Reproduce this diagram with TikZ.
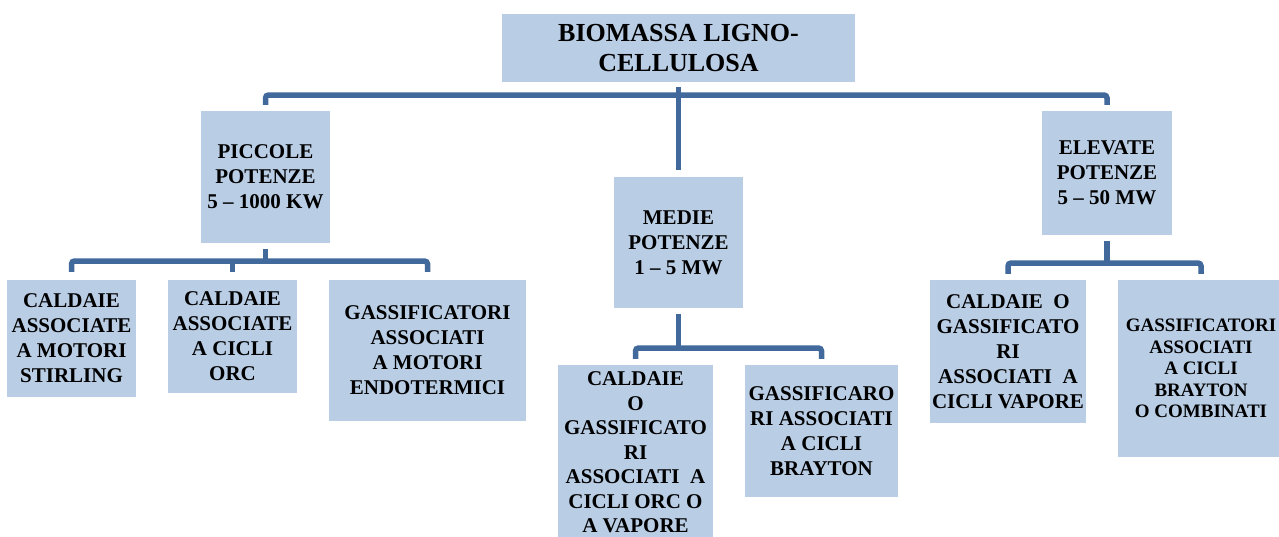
\documentclass[tikz,border=0pt]{standalone}
\usepackage{fontspec}
\setmainfont{Liberation Serif}
\definecolor{boxblue}{HTML}{B9CDE5}
\definecolor{linkblue}{HTML}{41699C}
\begin{document}
\begin{tikzpicture}[x=1pt,y=-1pt,
  box/.style={fill=boxblue, draw=none, inner sep=0pt, align=center, font=\bfseries\fontsize{21}{25}\selectfont},
  conn/.style={draw=linkblue, line width=5.5pt, rounded corners=3pt}]
\useasboundingbox (0,0) rectangle (1279,536);
\clip (0,0) rectangle (1279,536);
% nodes
\node[box, minimum width=353pt, minimum height=68pt, font=\bfseries\fontsize{26}{30.5}\selectfont] (top) at (678.5,48) {BIOMASSA LIGNO-\\CELLULOSA};
\node[box, minimum width=129pt, minimum height=132pt] (pic) at (265.5,177) {PICCOLE\\POTENZE\\5 -- 1000 KW};
\node[box, minimum width=129pt, minimum height=131pt] (med) at (678.5,242.5) {MEDIE\\POTENZE\\1 -- 5 MW};
\node[box, minimum width=130pt, minimum height=124pt] (ele) at (1107,173) {ELEVATE\\POTENZE\\5 -- 50 MW};
\node[box, minimum width=129pt, minimum height=117pt] (c1) at (71.5,338.5) {CALDAIE\\ASSOCIATE\\A MOTORI\\STIRLING};
\node[box, minimum width=129pt, minimum height=113pt] (c2) at (232.5,336.5) {CALDAIE\\ASSOCIATE\\A CICLI\\ORC};
\node[box, minimum width=197pt, minimum height=141pt] (c3) at (427.5,350.5) {GASSIFICATORI\\ASSOCIATI\\A MOTORI\\ENDOTERMICI};
\node[box, minimum width=155pt, minimum height=175pt, font=\bfseries\fontsize{21}{24.5}\selectfont] (m1) at (635.5,452.5) {CALDAIE\\O\\GASSIFICATO\\RI\\ASSOCIATI\ \ A\\CICLI ORC O\\A VAPORE};
\node[box, minimum width=153pt, minimum height=132pt] (m2) at (821.5,431) {GASSIFICARO\\RI ASSOCIATI\\A CICLI\\BRAYTON};
\node[box, minimum width=156pt, minimum height=143pt] (e1) at (1008,351.5) {CALDAIE\ \ O\\GASSIFICATO\\RI\\ASSOCIATI\ \ A\\CICLI VAPORE};
\node[box, minimum width=166pt, minimum height=177pt, font=\bfseries\fontsize{19}{21.5}\selectfont] (e2) at (1201,368.5) {GASSIFICATORI\\ASSOCIATI\\A CICLI\\BRAYTON\\O COMBINATI};
% connectors: level 1
\coordinate (mj) at (678.5,95);
\draw[conn] ([yshift=-5pt]top.south) -- ([yshift=7pt]med.north);
\draw[conn] ([yshift=6pt]pic.north) |- (mj) -| ([yshift=6pt]ele.north);
% piccole
\coordinate (pj) at (265.5,261);
\draw[conn] ([yshift=-6pt]pic.south) -- (pj);
\draw[conn] ([yshift=8pt]c1.north) |- (pj) -| ([yshift=8pt]c3.north);
\draw[conn] ([yshift=8pt]c2.north) -- (c2.north |- pj);
% medie
\coordinate (mj2) at (678.5,348);
\draw[conn] ([yshift=-6pt]med.south) -- (mj2);
\draw[conn] ([yshift=6pt]m1.north) |- (mj2) -| ([yshift=6pt]m2.north);
% elevate
\coordinate (ej) at (1107,263);
\draw[conn] ([yshift=-6pt]ele.south) -- (ej);
\draw[conn] ([yshift=6pt]e1.north) |- (ej) -| ([yshift=6pt]e2.north);
\end{tikzpicture}
\end{document}
